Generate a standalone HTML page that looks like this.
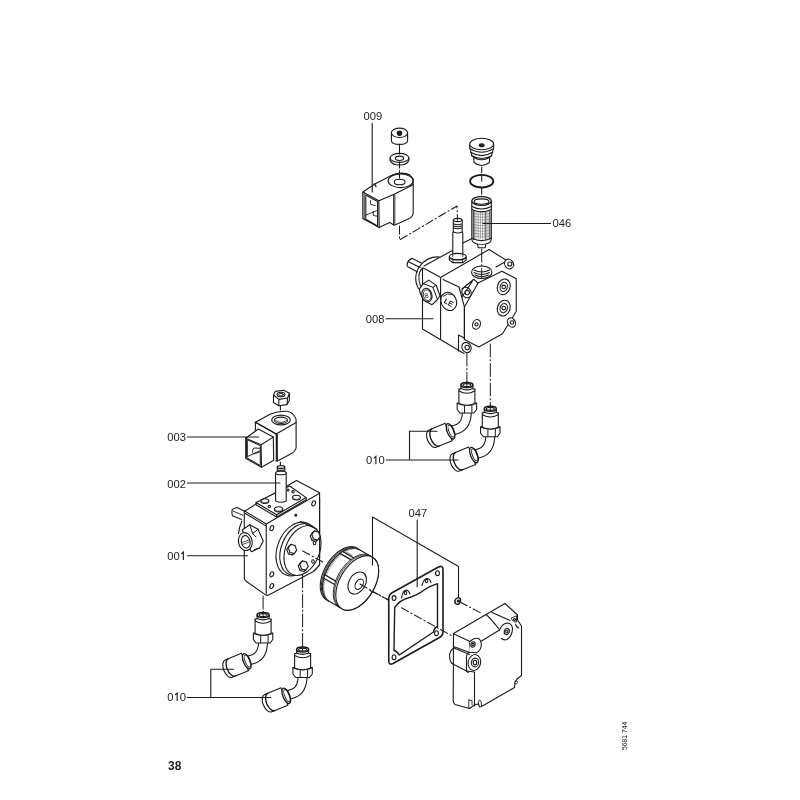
<!DOCTYPE html>
<html><head><meta charset="utf-8"><style>
html,body{margin:0;padding:0;background:#fff;width:800px;height:800px;overflow:hidden}
svg{position:absolute;left:0;top:0;will-change:transform}
text{font-family:"Liberation Sans",sans-serif;fill:#222}
</style></head><body>
<svg width="800" height="800" viewBox="0 0 800 800">
<g fill="none" stroke="#1a1a1a" stroke-width="1.1" stroke-linejoin="round" stroke-linecap="round">
<!-- ===== 009 coil upper ===== -->
<g id="c009">
<!-- nut -->
<ellipse cx="399.5" cy="132.8" rx="8.1" ry="4.7" fill="#fff"/>
<path d="M391.4,133 L391.4,140.5 Q391.4,144.4 399.5,144.4 Q407.6,144.4 407.6,140.5 L407.6,133"/>
<circle cx="399.5" cy="133.2" r="2.2" fill="#222"/>
<!-- washer -->
<ellipse cx="399.5" cy="157.9" rx="9.4" ry="4.5"/>
<path d="M390.1,158 L390.1,160.5 Q392,165 399.5,165 Q407,165 408.9,160.5 L408.9,158"/>
<ellipse cx="399.5" cy="158.3" rx="4.1" ry="2.2"/>
<!-- coil body -->
<path d="M362.8,192 L374.8,184 L388.8,176.8 Q395,173 402,173 Q410,173.5 413.2,179 L413.2,212.8 Q413.2,216.5 409.2,218.4 L394.4,225.2 L389.6,222.4 L379.2,227.6 L362.8,218.4 Z" fill="#fff"/>
<path d="M362.8,192 L378.8,200.8 L379.2,227.6 M378.8,200.8 L393.6,194.4 L413.2,184.8"/>
<path d="M393.6,194.4 L393.6,224.8 M394.8,195 L394.8,224.5" stroke-width="0.9"/>
<path d="M364.2,193 L364.2,219" stroke-width="0.9"/>
<path d="M365.8,195 L377.6,201.6 L377.6,226 L365.8,219.3 Z"/>
<path d="M365.8,215.2 L377.4,210.4 M370.4,200.6 L370.4,204.4 L375.2,205.6 M373.2,211.4 L373.2,215.4 L377.2,216.2" stroke-width="0.9"/>
<path d="M374.5,183.8 L376,186.5" stroke-width="1.4"/>
<ellipse cx="400.6" cy="180.8" rx="12.5" ry="6.8"/>
<path d="M390.5,176 Q399,171.8 409.5,174.5" stroke-width="0.9"/>
<ellipse cx="399.6" cy="182" rx="5.4" ry="2.8"/>
<!-- axis line nut-washer-coil -->
<path d="M399.5,144.4 L399.5,154 M399.5,162 L399.5,168 M399.5,170.5 L399.5,178"/>
</g>
<!-- leader 009 -->
<path d="M372.2,123.4 L372.2,192"/>
<!-- dash-dot coil->stem -->
<path d="M399.5,226 L399.5,240 L457,206 L457.5,220" stroke-dasharray="8,2.8,1.3,2.8" stroke-width="1.05"/>

<!-- ===== 046 stack ===== -->
<g id="s046">
<path d="M469.7,144.5 L469.9,149 L470.6,150 L470.8,152.5 L471.6,153.6 L471.8,156 L473.7,157 L474,162.5 Q481.7,168.5 489.4,162.5 L489.7,157 L491.6,156 L491.9,153.6 L492.6,152.5 L492.9,150 L493.5,149 L493.7,144.5 Z" fill="#fff"/>
<ellipse cx="481.7" cy="144" rx="12" ry="5.7" fill="#fff"/>
<path d="M469.9,148.6 Q481.7,156 493.5,148.6 M470.8,152.2 Q481.7,159 492.6,152.2 M471.8,155.6 Q481.7,161.5 491.6,155.6 M473.8,157.4 Q481.7,162 489.6,157.4"/>
<ellipse cx="481.7" cy="145.2" rx="2.4" ry="1.5" fill="#222"/>
<path d="M481.7,167 L481.7,172.5 M481.7,175 L481.7,181"/>
<ellipse cx="481.7" cy="181.2" rx="11.6" ry="6.3" stroke-width="1.8"/>
<path d="M481.7,188 L481.7,194 M481.7,196 L481.7,199"/>
<!-- filter -->
<path d="M471.8,201 L471.8,239 Q471.8,243 477.5,244 L478.3,247.8 L485.1,247.8 L485.9,244 Q491.3,243 491.3,239 L491.3,201" fill="#fff"/>
<g stroke="#666" stroke-width="0.55">
<path d="M476,211.5 L476,238.5 M478.2,211.5 L478.2,238.5 M480.4,211.5 L480.4,238.5 M482.6,211.5 L482.6,238.5 M484.8,211.5 L484.8,238.5 M487,211.5 L487,238.5 M489,211.5 L489,238.5"/>
<path d="M473,213.5 Q481.5,215.7 490.3,213.5 M473,216.3 Q481.5,218.5 490.3,216.3 M473,219.1 Q481.5,221.29999999999998 490.3,219.1 M473,221.9 Q481.5,224.1 490.3,221.9 M473,224.7 Q481.5,226.89999999999998 490.3,224.7 M473,227.5 Q481.5,229.7 490.3,227.5 M473,230.3 Q481.5,232.5 490.3,230.3 M473,233.1 Q481.5,235.29999999999998 490.3,233.1 M473,235.9 Q481.5,238.1 490.3,235.9"/>
</g>
<path d="M473.6,211 L473.6,239" stroke-width="2" stroke="#555"/>
<path d="M485.6,212 L485.6,239.5" stroke-width="1.2" stroke="#777"/>
<path d="M489.8,211 L489.8,239" stroke-width="1.2" stroke="#555"/>
<ellipse cx="481.55" cy="201" rx="9.75" ry="4.3" stroke-width="1.3" fill="#fff"/>
<ellipse cx="481.55" cy="201.6" rx="7.4" ry="2.7"/>
<path d="M471.8,206.5 Q481.55,211.5 491.3,206.5 M471.8,209.5 Q481.55,214.3 491.3,209.5"/>
<path d="M471.9,238.3 Q481.55,243 491.2,238.3" stroke-width="1.2"/>
<path d="M478,244.2 Q481.7,245.3 485.4,244.2" stroke-width="0.8"/>
</g>
<!-- leader 046 -->
<path d="M483,223.5 L550.5,223.5"/>

<!-- ===== upper stem ===== -->
<path d="M453.3,220 L453.3,232 L452.8,233 L452.8,255 M462.2,220 L462.2,232 L462.8,233 L462.8,255" />
<ellipse cx="457.75" cy="220" rx="4.25" ry="1.6"/>
<path d="M454,224 Q457.75,225.5 461.5,224 M454,226 Q457.75,227.5 461.5,226 M454,228 Q457.75,229.5 461.5,228 M453.5,232 Q457.75,234 462,232"/>
<path d="M449.3,256.8 L449.3,259.8 L452.6,262.6 L462.9,262.6 L466.2,259.8 L466.2,256.8 Z" fill="#fff"/>
<ellipse cx="457.75" cy="256.6" rx="8.4" ry="3.2" fill="#fff"/>
<path d="M452.8,256.5 L452.8,255 M462.7,256.5 L462.7,255 M453,259.6 L453,262.6 M462.5,259.6 L462.5,262.6 M449.3,258.3 Q457.75,262 466.2,258.3" stroke-width="0.9"/>

<!-- ===== pump 008 ===== -->
<g id="p008">
<!-- shaft -->
<path d="M412.4,258.4 L421.75,263.25 M408.25,267 L417.6,271.9 M412.4,258.4 Q407,260 407.1,265.5 Q407.3,266.7 408.25,267 M408.4,261.8 L420.2,267.4"/>
<!-- flange -->
<path d="M418.75,288.75 C414.5,282 414.5,273 420,266 C424.5,260 430,256.5 439,256.9"/>
<path d="M420.5,286 C418,279 418.5,272 422.5,268"/>
<!-- left block -->
<path d="M424,265.9 L452.5,250.5 M423.25,268.1 L439.5,276.75 L440.6,278 L440.6,338.6 M422.5,268.5 L422.5,329 L464,353.5"/>
<path d="M440.5,277.5 L489,249.5 L514,265 M443,279.5 L459,287"/>
<path d="M463,243 L472,238.5"/>
<!-- hex nut -->
<path d="M419.4,288.9 L423.4,283.6 L428.75,280.1 L436.25,285.4 L440,295.75 L437.5,299.5 L431.9,304.8 L423.4,300.1 L420,292.6 Z" fill="#fff"/>
<path d="M423.4,283.6 L432.8,287.3 L436.25,285.4 M432.8,287.3 L437.5,299.5" stroke-width="1"/>
<ellipse cx="426.9" cy="295.1" rx="5" ry="6.9" transform="rotate(-15 426.9 295.1)" fill="#fff"/>
<ellipse cx="427.2" cy="295.2" rx="3.8" ry="5.5" transform="rotate(-15 427.2 295.2)" stroke-width="0.8"/>
<text x="424.4" y="298.2" font-size="7" stroke="none" fill="#222" transform="rotate(-20 426 295)">8</text>
<!-- LE plug -->
<ellipse cx="448.75" cy="301.4" rx="7.6" ry="9.4" transform="rotate(-25 448.75 301.4)" fill="#fff"/>
<path d="M443.5,296 Q447,292.5 452,294.5" stroke-width="0.9"/>
<text x="444.5" y="305" font-size="7.5" font-weight="bold" stroke="none" fill="#222" transform="rotate(28 448.75 301.4)">LE</text>
<!-- port hole -->
<ellipse cx="481.75" cy="272.25" rx="10.25" ry="6.25"/>
<path d="M474,270 Q481.75,274 489.5,270 M474,272.5 Q481.75,276.5 489.5,272.5 M475,275 Q481.75,278.5 488.5,275"/>
<!-- cover face -->
<path d="M464.4,306.9 L478.1,283.1 L501.9,271.25 L516.25,278.75 L516.25,311.25 L502.5,333.75 L478.75,346.9 L464.4,339.4 Z" fill="#fff"/>
<path d="M474,279.5 L478.1,283.1 M459,287 L464.4,306.9 M464.4,306.9 L464.4,339.4"/>
<path d="M458.5,335 L458.5,351 M458.5,335 L464.4,338"/>
<!-- screws on cover -->
<ellipse cx="503.75" cy="286.9" rx="6.3" ry="8" transform="rotate(20 503.75 286.9)"/>
<ellipse cx="503.75" cy="286.9" rx="3.6" ry="4.6" transform="rotate(20 503.75 286.9)"/>
<circle cx="503.75" cy="286.9" r="1.8"/>
<ellipse cx="503.75" cy="308.1" rx="6.3" ry="8" transform="rotate(20 503.75 308.1)"/>
<ellipse cx="503.75" cy="308.1" rx="3.6" ry="4.6" transform="rotate(20 503.75 308.1)"/>
<circle cx="503.75" cy="308.1" r="1.8"/>
<ellipse cx="476.5" cy="324.4" rx="3.8" ry="5" transform="rotate(20 476.5 324.4)"/>
<circle cx="476.5" cy="324.4" r="1.6"/>
<!-- bosses -->
<ellipse cx="466.5" cy="292.5" rx="4.5" ry="5.5" fill="#fff" transform="rotate(-30 466.5 292.5)"/>
<circle cx="467.2" cy="292.5" r="2.2"/>
<path d="M462,289 L473.5,279.5 M462,297 L472.5,281"/>
<ellipse cx="511.5" cy="322.5" rx="3.8" ry="4.8" fill="#fff" transform="rotate(-30 511.5 322.5)"/>
<circle cx="512" cy="322.5" r="1.8"/>
<ellipse cx="466.5" cy="347.5" rx="4.5" ry="5.3" fill="#fff" transform="rotate(-30 466.5 347.5)"/>
<circle cx="467.2" cy="347.5" r="2.2"/>
<ellipse cx="509" cy="264" rx="4.3" ry="5" fill="#fff" transform="rotate(-30 509 264)"/>
<circle cx="509.8" cy="264" r="2"/>
<path d="M496,267 L505,262"/>
</g>
<!-- leader 008 -->
<path d="M386,318.75 L433,318.75"/>
<!-- dashed lines down from pump -->
<path d="M466.9,353 L466.9,385" stroke-dasharray="13,2.6,1.3,2.6" stroke-width="1"/>
<path d="M490.3,344 L490.3,408.5" stroke-dasharray="13,2.6,1.3,2.6" stroke-width="1"/>
<!-- port axis -->
<path d="M481.7,249 L481.7,278" stroke-dasharray="13,2.6,1.3,2.6" stroke-width="1"/>
</g>

<g fill="none" stroke="#1a1a1a" stroke-width="1.1" stroke-linejoin="round" stroke-linecap="round">

<g transform="translate(466.9,385)">
<!-- tube -->
<path d="M0,26 C0,36.5 -3,41.5 -9,43.8 L-16.5,46.3" stroke="#1a1a1a" stroke-width="10" fill="none"/>
<path d="M0,26 C0,36.5 -3,41.5 -9,43.8 L-16.5,46.3" stroke="#fff" stroke-width="7.8" fill="none"/>
<!-- fitting -->
<path d="M-9.7,18 L-9.7,24.5 L-7,28 L7,28 L9.7,24.5 L9.7,18 Z" fill="#fff"/>
<path d="M-9.7,18.5 Q0,22.5 9.7,18.5 M-2.4,21 L-2.4,28 M5,20.3 L5,27.5" stroke-width="1"/>
<path d="M-8,4 L-8,18.5 Q0,22 8,18.5 L8,4" fill="#fff"/>
<path d="M-8,4.2 Q0,1 8,4.2 M-7.8,6 Q0,10.5 7.8,6"/>
<path d="M-6,0 L-6,3.6 Q0,6.2 6,3.6 L6,0" fill="#fff" stroke-width="1.1"/>
<ellipse cx="0" cy="0" rx="6" ry="2.5" fill="#fff" stroke-width="1.5"/>
<ellipse cx="0" cy="0.1" rx="4" ry="1.5" stroke-width="1.1"/>
<!-- sleeve -->
<g transform="translate(-16.3,46.3) rotate(-22)">
<path d="M-2,-9.4 L-19.5,-9.4 A5.2,9.4 0 0 0 -19.5,9.4 L-2,9.4 Z" fill="#fff"/>
<path d="M-16.3,-9.3 A4.8,9.3 0 0 0 -16.3,9.3" stroke-width="1.4"/>
<ellipse cx="0" cy="0" rx="3.4" ry="8.2" fill="#fff" stroke-width="1.3"/>
<ellipse cx="0.6" cy="0" rx="2.2" ry="6.4" stroke-width="0.9"/>
</g>
</g>
<g transform="translate(490.3,408.75)">
<!-- tube -->
<path d="M0,26 C0,36.5 -3,41.5 -9,43.8 L-16.5,46.3" stroke="#1a1a1a" stroke-width="10" fill="none"/>
<path d="M0,26 C0,36.5 -3,41.5 -9,43.8 L-16.5,46.3" stroke="#fff" stroke-width="7.8" fill="none"/>
<!-- fitting -->
<path d="M-9.7,18 L-9.7,24.5 L-7,28 L7,28 L9.7,24.5 L9.7,18 Z" fill="#fff"/>
<path d="M-9.7,18.5 Q0,22.5 9.7,18.5 M-2.4,21 L-2.4,28 M5,20.3 L5,27.5" stroke-width="1"/>
<path d="M-8,4 L-8,18.5 Q0,22 8,18.5 L8,4" fill="#fff"/>
<path d="M-8,4.2 Q0,1 8,4.2 M-7.8,6 Q0,10.5 7.8,6"/>
<path d="M-6,0 L-6,3.6 Q0,6.2 6,3.6 L6,0" fill="#fff" stroke-width="1.1"/>
<ellipse cx="0" cy="0" rx="6" ry="2.5" fill="#fff" stroke-width="1.5"/>
<ellipse cx="0" cy="0.1" rx="4" ry="1.5" stroke-width="1.1"/>
<!-- sleeve -->
<g transform="translate(-16.3,46.3) rotate(-22)">
<path d="M-2,-9.4 L-19.5,-9.4 A5.2,9.4 0 0 0 -19.5,9.4 L-2,9.4 Z" fill="#fff"/>
<path d="M-16.3,-9.3 A4.8,9.3 0 0 0 -16.3,9.3" stroke-width="1.4"/>
<ellipse cx="0" cy="0" rx="3.4" ry="8.2" fill="#fff" stroke-width="1.3"/>
<ellipse cx="0.6" cy="0" rx="2.2" ry="6.4" stroke-width="0.9"/>
</g>
</g>
<g transform="translate(263.1,615)">
<!-- tube -->
<path d="M0,26 C0,36.5 -3,41.5 -9,43.8 L-16.5,46.3" stroke="#1a1a1a" stroke-width="10" fill="none"/>
<path d="M0,26 C0,36.5 -3,41.5 -9,43.8 L-16.5,46.3" stroke="#fff" stroke-width="7.8" fill="none"/>
<!-- fitting -->
<path d="M-9.7,18 L-9.7,24.5 L-7,28 L7,28 L9.7,24.5 L9.7,18 Z" fill="#fff"/>
<path d="M-9.7,18.5 Q0,22.5 9.7,18.5 M-2.4,21 L-2.4,28 M5,20.3 L5,27.5" stroke-width="1"/>
<path d="M-8,4 L-8,18.5 Q0,22 8,18.5 L8,4" fill="#fff"/>
<path d="M-8,4.2 Q0,1 8,4.2 M-7.8,6 Q0,10.5 7.8,6"/>
<path d="M-6,0 L-6,3.6 Q0,6.2 6,3.6 L6,0" fill="#fff" stroke-width="1.1"/>
<ellipse cx="0" cy="0" rx="6" ry="2.5" fill="#fff" stroke-width="1.5"/>
<ellipse cx="0" cy="0.1" rx="4" ry="1.5" stroke-width="1.1"/>
<!-- sleeve -->
<g transform="translate(-16.3,46.3) rotate(-22)">
<path d="M-2,-9.4 L-19.5,-9.4 A5.2,9.4 0 0 0 -19.5,9.4 L-2,9.4 Z" fill="#fff"/>
<path d="M-16.3,-9.3 A4.8,9.3 0 0 0 -16.3,9.3" stroke-width="1.4"/>
<ellipse cx="0" cy="0" rx="3.4" ry="8.2" fill="#fff" stroke-width="1.3"/>
<ellipse cx="0.6" cy="0" rx="2.2" ry="6.4" stroke-width="0.9"/>
</g>
</g>
<g transform="translate(302.6,649.5)">
<!-- tube -->
<path d="M0,26 C0,36.5 -3,41.5 -9,43.8 L-16.5,46.3" stroke="#1a1a1a" stroke-width="10" fill="none"/>
<path d="M0,26 C0,36.5 -3,41.5 -9,43.8 L-16.5,46.3" stroke="#fff" stroke-width="7.8" fill="none"/>
<!-- fitting -->
<path d="M-9.7,18 L-9.7,24.5 L-7,28 L7,28 L9.7,24.5 L9.7,18 Z" fill="#fff"/>
<path d="M-9.7,18.5 Q0,22.5 9.7,18.5 M-2.4,21 L-2.4,28 M5,20.3 L5,27.5" stroke-width="1"/>
<path d="M-8,4 L-8,18.5 Q0,22 8,18.5 L8,4" fill="#fff"/>
<path d="M-8,4.2 Q0,1 8,4.2 M-7.8,6 Q0,10.5 7.8,6"/>
<path d="M-6,0 L-6,3.6 Q0,6.2 6,3.6 L6,0" fill="#fff" stroke-width="1.1"/>
<ellipse cx="0" cy="0" rx="6" ry="2.5" fill="#fff" stroke-width="1.5"/>
<ellipse cx="0" cy="0.1" rx="4" ry="1.5" stroke-width="1.1"/>
<!-- sleeve -->
<g transform="translate(-16.3,46.3) rotate(-22)">
<path d="M-2,-9.4 L-19.5,-9.4 A5.2,9.4 0 0 0 -19.5,9.4 L-2,9.4 Z" fill="#fff"/>
<path d="M-16.3,-9.3 A4.8,9.3 0 0 0 -16.3,9.3" stroke-width="1.4"/>
<ellipse cx="0" cy="0" rx="3.4" ry="8.2" fill="#fff" stroke-width="1.3"/>
<ellipse cx="0.6" cy="0" rx="2.2" ry="6.4" stroke-width="0.9"/>
</g>
</g>
<path d="M466.9,382 L466.9,386 M490.3,405.5 L490.3,409.8 M263.1,612 L263.1,616 M302.6,646.5 L302.6,650.5" stroke-width="0.9"/>
<!-- upper 010 bracket -->
<path d="M386.25,460 L458,460 M409.5,431.25 L409.5,460 M409.5,431.25 L437,431.25"/>
<!-- lower 010 bracket -->
<path d="M187.5,697.5 L271,697.5 M210.8,669.3 L210.8,697.5 M210.8,669.3 L233.5,669.3"/>

<!-- ===== 003 nut ===== -->
<path d="M273.6,395 L275.2,391.4 L283.8,390.2 L289.4,393.2 L289.4,400.5 L286.8,404.6 L278.8,405.8 L273.4,402.5 Z" fill="#fff"/>
<path d="M273.6,395 L278.8,399.4 L287.6,398 L289.4,393.2 M278.8,399.4 L278.8,405.8 M287.4,398.4 L287.2,404.2"/>
<ellipse cx="281" cy="394.5" rx="3.9" ry="2.3"/>
<ellipse cx="281" cy="394.6" rx="2.3" ry="1.2" stroke-width="0.9"/>
<path d="M280.4,406 L280.4,412.5" stroke-dasharray="4,2"/>
<!-- ===== 003 coil ===== -->
<path d="M255.4,422.3 L270.5,413.9 Q278,410.8 287.5,411.3 Q294,412.8 296.1,419.6 L296.1,448.1 Q295,451.5 292.4,453 L277,461.3 L276.4,433.9 Z" fill="#fff"/>
<path d="M255.4,422.3 L276.2,433.9 L296.1,422.6"/>
<path d="M255.4,422.3 L255.4,431"/>
<path d="M276.2,433.9 L276.2,461.3 M277.4,434.3 L277.4,460.8" stroke-width="0.9"/>
<ellipse cx="281" cy="420" rx="9.3" ry="4.9"/>
<ellipse cx="281" cy="420.3" rx="6.5" ry="3.2"/>
<path d="M275.5,420.5 Q281,424.5 286.5,420.5" stroke-width="0.8"/>
<!-- connector -->
<path d="M245.7,438.3 L258.3,429 L273.3,437.1 L273.7,460.3 L261.5,467.2 L245.7,458.3 Z" fill="#fff"/>
<path d="M245.7,438.3 L261.1,444.8 L273.3,437.1 M261.1,444.8 L261.5,467.2"/>
<path d="M246.9,439.6 L260.3,445.7 L260.3,465.6 L246.9,457.8 Z" stroke-width="1"/>
<path d="M247.2,440.8 L247.2,457" stroke-width="1.2"/>
<path d="M247.7,456.5 L260.3,450.5" stroke-width="0.9"/>
<path d="M259.5,448.3 L254.5,448 Q252.6,448.5 252.6,450.5 L252.6,452.5 Q253,454 254.5,453.8 L259.5,452" stroke-width="1"/>
<path d="M280.4,462 L280.4,467" stroke-dasharray="3,2"/>
<!-- ===== pump 001 ===== -->
<g id="p001">
<path d="M237,507.5 L244.5,511.2 M232.5,515.8 L241.5,519.5 M237,507.5 Q233,508.5 232.1,509.9 Q231.6,513.5 232.5,515.8" />
<path d="M241.9,521 Q239.5,526 238.5,533.8" />
<path d="M233.3,511.2 L243,515.2" stroke-width="0.9"/>
<path d="M244.3,511.5 L244.3,578 Q244.3,580.5 246.5,581.5 L265.6,594.9 Q267,595.8 268.6,595 L313.5,571.5 L319.6,565 L319.6,492.8 L296.5,480.4 L256.5,503.75 L244.3,511.5 Z" fill="#fff"/>
<path d="M244.5,510.9 L266.25,524 L266.25,594 M245,513.2 L265.5,525.6 M266.25,524 L319.6,493.2" />
<path d="M256,502.5 L289.6,486 L306.2,497.6 L276.6,514.8 Z" fill="#fff"/>
<path d="M256,502.5 L256,504.8 L276.6,517 L306.2,499.8 L306.2,497.6 M276.6,514.8 L276.6,517" />
<ellipse cx="264.9" cy="501.1" rx="4" ry="2.4"/>
<path d="M261.5,501.40000000000003 Q264.9,504.7 268.29999999999995,501.40000000000003" stroke-width="0.7"/>
<ellipse cx="296.5" cy="497.6" rx="4" ry="2.4"/>
<path d="M293.1,497.90000000000003 Q296.5,501.2 299.9,497.90000000000003" stroke-width="0.7"/>
<ellipse cx="278.6" cy="509.3" rx="4.2" ry="2.6"/>
<path d="M275.00000000000006,509.6 Q278.6,513.1 282.2,509.6" stroke-width="0.7"/>
<circle cx="269.3" cy="506.6" r="1.2"/><circle cx="293" cy="491.8" r="1.2"/><circle cx="288" cy="490" r="1"/>
<!-- ===== 002 stem ===== -->
<path d="M277.3,467 L277.3,473 M284.8,467 L284.8,473"/>
<ellipse cx="281" cy="467" rx="3.75" ry="1.4"/>
<path d="M278,469 L284,469 M278,470.5 L284,470.5 M278,472 L284,472" stroke-width="0.8"/>
<path d="M275.6,473 L275.6,501 Q281,503.5 286.2,501 L286.2,473" fill="#fff"/>
<ellipse cx="280.9" cy="473" rx="5.3" ry="1.8" fill="#fff"/>



<ellipse cx="271.8" cy="528.2" rx="1.7" ry="2.6" transform="rotate(25 271.8 528.2)"/>
<ellipse cx="271.8" cy="574.3" rx="1.7" ry="2.6" transform="rotate(25 271.8 574.3)"/>
<ellipse cx="271.8" cy="586" rx="1.7" ry="2.6" transform="rotate(25 271.8 586)"/>
<ellipse cx="313.7" cy="503.4" rx="1.7" ry="2.6" transform="rotate(25 313.7 503.4)"/>
<circle cx="295.8" cy="515.3" r="0.9" fill="#222"/>
<ellipse cx="296.5" cy="549" rx="19" ry="28" transform="rotate(22 296.5 549)" fill="#fff"/>
<ellipse cx="299.3" cy="549.5" rx="18" ry="27" transform="rotate(22 299.3 549.5)" fill="#fff"/>
<ellipse cx="302.5" cy="550.5" rx="17" ry="26" transform="rotate(22 302.5 550.5)" fill="#fff"/>
<path d="M300.5,521.4 L317,529.3" />
<path d="M319.6,498 L319.6,557.5" />
<path d="M295.07,551.51 L292.59,555.05 L288.42,553.93 L286.73,549.29 L289.21,545.75 L293.38,546.87 Z" fill="#fff"/>
<path d="M296.67,550.11 L295.07,551.51 M294.19,553.65 L292.59,555.05 M290.02,552.53 L288.42,553.93 M288.33,547.89 L286.73,549.29 M290.81,544.35 L289.21,545.75 M294.98,545.47 L293.38,546.87 " stroke-width="0.9"/>
<path d="M296.67,550.11 L294.19,553.65 L290.02,552.53 L288.33,547.89 L290.81,544.35 L294.98,545.47 Z" fill="#fff"/>
<path d="M306.57,568.01 L304.09,571.55 L299.92,570.43 L298.23,565.79 L300.71,562.25 L304.88,563.37 Z" fill="#fff"/>
<path d="M308.17,566.61 L306.57,568.01 M305.69,570.15 L304.09,571.55 M301.52,569.03 L299.92,570.43 M299.83,564.39 L298.23,565.79 M302.31,560.85 L300.71,562.25 M306.48,561.97 L304.88,563.37 " stroke-width="0.9"/>
<path d="M308.17,566.61 L305.69,570.15 L301.52,569.03 L299.83,564.39 L302.31,560.85 L306.48,561.97 Z" fill="#fff"/>
<path d="M318.57,538.01 L316.09,541.55 L311.92,540.43 L310.23,535.79 L312.71,532.25 L316.88,533.37 Z" fill="#fff"/>
<path d="M320.17,536.61 L318.57,538.01 M317.69,540.15 L316.09,541.55 M313.52,539.03 L311.92,540.43 M311.83,534.39 L310.23,535.79 M314.31,530.85 L312.71,532.25 M318.48,531.97 L316.88,533.37 " stroke-width="0.9"/>
<path d="M320.17,536.61 L317.69,540.15 L313.52,539.03 L311.83,534.39 L314.31,530.85 L318.48,531.97 Z" fill="#fff"/>
<ellipse cx="314.5" cy="543" rx="1.3" ry="1.8"/><ellipse cx="313" cy="561.5" rx="1.3" ry="1.8"/>
<path d="M242.25,530.00 L249.75,524.75 L258.00,529.25 L263.25,540.90 L259.50,548.00 L251.25,551.75 Z" fill="#fff"/>
<path d="M252.7,533.5 L258,529.25 M252.7,533.5 L249.75,524.75 M254.5,549.5 L259.5,548 M252.7,533.5 L256,537" stroke-width="1"/>
<ellipse cx="245.3" cy="541.6" rx="6.8" ry="9" transform="rotate(-12 245.3 541.6)" fill="#fff"/>
<ellipse cx="245.7" cy="541.8" rx="4.4" ry="6.3" transform="rotate(-12 245.7 541.8)"/>
<path d="M242,542.5 L249,540 M242.5,544.5 L249.3,542" stroke-width="0.8"/>
</g>

<!-- leader 003 002 001 -->
<path d="M187.5,437 L258.5,437 M187.5,483 L280,483 M187.5,555.75 L247.5,555.75"/>
<!-- dashed lines pump001 -->
<path d="M263.1,596 L263.1,615" stroke-dasharray="13,2.6,1.3,2.6" stroke-width="1"/>
<path d="M302.6,575 L302.6,649.5" stroke-dasharray="13,2.6,1.3,2.6" stroke-width="1"/>
<path d="M302.7,551 L324,562.6" stroke-dasharray="8,2.8,1.3,2.8" stroke-width="1.05"/>

<!-- ===== filter drum ===== -->
<g id="drum">
<path d="M356.93,548.15 L356.53,547.93 L356.12,547.72 L355.70,547.53 L355.27,547.36 L354.83,547.21 L354.38,547.08 L353.92,546.97 L353.46,546.87 L352.99,546.79 L352.50,546.73 L352.02,546.69 L351.52,546.67 L351.02,546.67 L350.51,546.69 L350.00,546.72 L349.48,546.77 L348.95,546.85 L348.42,546.94 L347.89,547.05 L347.35,547.17 L346.80,547.32 L346.26,547.48 L345.71,547.67 L345.16,547.87 L344.60,548.09 L344.04,548.32 L343.49,548.58 L342.93,548.85 L342.37,549.14 L341.80,549.44 L341.24,549.76 L340.68,550.10 L340.12,550.46 L339.56,550.83 L339.01,551.22 L338.45,551.62 L337.90,552.04 L337.35,552.47 L336.80,552.92 L336.25,553.38 L335.71,553.86 L335.18,554.35 L334.65,554.86 L334.12,555.37 L333.60,555.90 L333.08,556.44 L332.57,557.00 L332.06,557.57 L331.57,558.14 L331.08,558.73 L330.59,559.33 L330.12,559.94 L329.65,560.56 L329.19,561.18 L328.74,561.82 L328.30,562.46 L327.86,563.12 L327.44,563.78 L327.03,564.44 L326.62,565.12 L326.23,565.80 L325.85,566.48 L325.47,567.17 L325.11,567.87 L324.76,568.57 L324.43,569.27 L324.10,569.98 L323.79,570.69 L323.48,571.40 L323.19,572.11 L322.92,572.83 L322.65,573.54 L322.40,574.26 L322.17,574.97 L321.94,575.69 L321.73,576.40 L321.54,577.11 L321.35,577.82 L321.18,578.53 L321.03,579.23 L320.89,579.93 L320.76,580.63 L320.65,581.32 L320.55,582.01 L320.47,582.69 L320.40,583.36 L320.35,584.03 L320.31,584.70 L320.28,585.35 L320.27,586.00 L320.28,586.64 L320.30,587.27 L320.33,587.89 L320.38,588.50 L320.44,589.10 L320.52,589.69 L320.61,590.27 L320.72,590.84 L320.84,591.40 L320.97,591.94 L321.12,592.48 L321.29,593.00 L321.47,593.51 L321.66,594.00 L321.86,594.48 L322.08,594.95 L322.31,595.40 L322.56,595.84 L322.82,596.26 L323.09,596.67 L323.37,597.06 L323.67,597.44 L323.98,597.80 L324.30,598.14 L324.64,598.47 L324.98,598.78 L325.34,599.07 L325.71,599.35 L326.08,599.61 L326.47,599.85 L341.97,608.85 L342.37,609.07 L342.78,609.28 L343.20,609.47 L343.63,609.64 L344.07,609.79 L344.52,609.92 L344.98,610.03 L345.44,610.13 L345.91,610.21 L346.40,610.27 L346.88,610.31 L347.38,610.33 L347.88,610.33 L348.39,610.31 L348.90,610.28 L349.42,610.23 L349.95,610.15 L350.48,610.06 L351.01,609.95 L351.55,609.83 L352.10,609.68 L352.64,609.52 L353.19,609.33 L353.74,609.13 L354.30,608.91 L354.86,608.68 L355.41,608.42 L355.97,608.15 L356.53,607.86 L357.10,607.56 L357.66,607.24 L358.22,606.90 L358.78,606.54 L359.34,606.17 L359.89,605.78 L360.45,605.38 L361.00,604.96 L361.55,604.53 L362.10,604.08 L362.65,603.62 L363.19,603.14 L363.72,602.65 L364.25,602.14 L364.78,601.63 L365.30,601.10 L365.82,600.56 L366.33,600.00 L366.84,599.43 L367.33,598.86 L367.82,598.27 L368.31,597.67 L368.78,597.06 L369.25,596.44 L369.71,595.82 L370.16,595.18 L370.60,594.54 L371.04,593.88 L371.46,593.22 L371.87,592.56 L372.28,591.88 L372.67,591.20 L373.05,590.52 L373.43,589.83 L373.79,589.13 L374.14,588.43 L374.47,587.73 L374.80,587.02 L375.11,586.31 L375.42,585.60 L375.71,584.89 L375.98,584.17 L376.25,583.46 L376.50,582.74 L376.73,582.03 L376.96,581.31 L377.17,580.60 L377.36,579.89 L377.55,579.18 L377.72,578.47 L377.87,577.77 L378.01,577.07 L378.14,576.37 L378.25,575.68 L378.35,574.99 L378.43,574.31 L378.50,573.64 L378.55,572.97 L378.59,572.30 L378.62,571.65 L378.63,571.00 L378.62,570.36 L378.60,569.73 L378.57,569.11 L378.52,568.50 L378.46,567.90 L378.38,567.31 L378.29,566.73 L378.18,566.16 L378.06,565.60 L377.93,565.06 L377.78,564.52 L377.61,564.00 L377.43,563.49 L377.24,563.00 L377.04,562.52 L376.82,562.05 L376.59,561.60 L376.34,561.16 L376.08,560.74 L375.81,560.33 L375.53,559.94 L375.23,559.56 L374.92,559.20 L374.60,558.86 L374.26,558.53 L373.92,558.22 L373.56,557.93 L373.19,557.65 L372.82,557.39 L372.43,557.15 Z" fill="#fff"/>
<path d="M358.01,548.78 L357.20,548.35 L356.35,547.99 L355.46,547.71 L354.54,547.50 L353.59,547.36 L352.61,547.30 L351.60,547.32 L350.56,547.40 L349.51,547.57 L348.43,547.80 L347.34,548.11 L346.24,548.50 L345.13,548.95 L344.01,549.48 L342.89,550.07 L341.77,550.73 L340.65,551.46 L339.54,552.25 L338.43,553.10 L337.34,554.01 L336.26,554.98 L335.20,556.00 L334.16,557.07 L333.15,558.20 L332.16,559.36 L331.20,560.57 L330.27,561.81 L329.38,563.09 L328.52,564.41 L327.71,565.75 L326.93,567.11 L326.20,568.50 L325.51,569.90 L324.87,571.32 L324.28,572.74 L323.74,574.17 L323.25,575.60 L322.82,577.03 L322.44,578.45 L322.11,579.86 L321.85,581.26 L321.64,582.64 L321.48,583.99 L321.39,585.33 L321.36,586.63 L321.38,587.90 L321.46,589.13 L321.60,590.32 L321.80,591.47 L322.06,592.57 L322.37,593.63 L322.74,594.63 L323.17,595.58 L323.64,596.47 L324.18,597.30 L324.76,598.07 L325.39,598.77 L326.07,599.41 L326.79,599.98 L327.56,600.48" stroke-width="1.0"/>
<path d="M359.10,549.41 L358.29,548.98 L357.44,548.62 L356.55,548.34 L355.63,548.13 L354.67,547.99 L353.69,547.93 L352.68,547.95 L351.65,548.03 L350.59,548.20 L349.52,548.43 L348.43,548.74 L347.33,549.13 L346.21,549.58 L345.10,550.11 L343.97,550.70 L342.85,551.36 L341.73,552.09 L340.62,552.88 L339.52,553.73 L338.42,554.64 L337.35,555.61 L336.29,556.63 L335.25,557.70 L334.23,558.83 L333.25,559.99 L332.29,561.20 L331.36,562.44 L330.47,563.72 L329.61,565.04 L328.79,566.38 L328.02,567.74 L327.28,569.13 L326.60,570.53 L325.96,571.95 L325.36,573.37 L324.82,574.80 L324.34,576.23 L323.90,577.66 L323.52,579.08 L323.20,580.49 L322.93,581.89 L322.72,583.27 L322.57,584.62 L322.48,585.96 L322.44,587.26 L322.47,588.53 L322.55,589.76 L322.69,590.95 L322.89,592.10 L323.14,593.20 L323.46,594.26 L323.83,595.26 L324.25,596.21 L324.73,597.10 L325.26,597.93 L325.84,598.70 L326.47,599.40 L327.15,600.04 L327.88,600.61 L328.64,601.11" stroke-width="1.2"/>
<path d="M369.95,555.71 L369.14,555.28 L368.29,554.92 L367.40,554.64 L366.48,554.43 L365.52,554.29 L364.54,554.23 L363.53,554.25 L362.50,554.33 L361.44,554.50 L360.37,554.73 L359.28,555.04 L358.18,555.43 L357.06,555.88 L355.95,556.41 L354.82,557.00 L353.70,557.66 L352.58,558.39 L351.47,559.18 L350.37,560.03 L349.27,560.94 L348.20,561.91 L347.14,562.93 L346.10,564.00 L345.08,565.13 L344.10,566.29 L343.14,567.50 L342.21,568.74 L341.32,570.02 L340.46,571.34 L339.64,572.68 L338.87,574.04 L338.13,575.43 L337.45,576.83 L336.81,578.25 L336.21,579.67 L335.67,581.10 L335.19,582.53 L334.75,583.96 L334.37,585.38 L334.05,586.79 L333.78,588.19 L333.57,589.57 L333.42,590.92 L333.33,592.26 L333.29,593.56 L333.32,594.83 L333.40,596.06 L333.54,597.25 L333.74,598.40 L333.99,599.50 L334.31,600.56 L334.68,601.56 L335.10,602.51 L335.58,603.40 L336.11,604.23 L336.69,605.00 L337.32,605.70 L338.00,606.34 L338.73,606.91 L339.49,607.41" stroke-width="1.0"/>
<path d="M371.03,556.34 L370.22,555.91 L369.37,555.55 L368.48,555.27 L367.56,555.06 L366.61,554.92 L365.63,554.86 L364.62,554.88 L363.58,554.96 L362.53,555.13 L361.45,555.36 L360.36,555.67 L359.26,556.06 L358.15,556.51 L357.03,557.04 L355.91,557.63 L354.79,558.29 L353.67,559.02 L352.56,559.81 L351.45,560.66 L350.36,561.57 L349.28,562.54 L348.22,563.56 L347.18,564.63 L346.17,565.76 L345.18,566.92 L344.22,568.13 L343.29,569.37 L342.40,570.65 L341.54,571.97 L340.73,573.31 L339.95,574.67 L339.22,576.06 L338.53,577.46 L337.89,578.88 L337.30,580.30 L336.76,581.73 L336.27,583.16 L335.84,584.59 L335.46,586.01 L335.13,587.42 L334.87,588.82 L334.66,590.20 L334.50,591.55 L334.41,592.89 L334.38,594.19 L334.40,595.46 L334.48,596.69 L334.62,597.88 L334.82,599.03 L335.08,600.13 L335.39,601.19 L335.76,602.19 L336.19,603.14 L336.66,604.03 L337.20,604.86 L337.78,605.63 L338.41,606.33 L339.09,606.97 L339.81,607.54 L340.58,608.04" stroke-width="0.8"/>
<path d="M342.63,551.50 L353.48,557.80" stroke-width="1.3"/>
<path d="M339.96,553.38 L350.81,559.68" stroke-width="1.3"/>
<path d="M324.82,574.80 L335.67,581.10" stroke-width="1.3"/>
<path d="M323.74,578.23 L334.59,584.53" stroke-width="1.3"/>
<path d="M358.12,548.90 L359.67,549.80 M357.21,548.54 L358.76,549.44 M356.25,548.26 L357.80,549.16 M355.26,548.07 L356.81,548.97 M354.23,547.96 L355.78,548.86 M353.18,547.93 L354.73,548.83 M352.09,547.99 L353.64,548.89 M350.97,548.13 L352.52,549.03 M349.84,548.36 L351.39,549.26 M348.68,548.66 L350.23,549.56 M347.51,549.06 L349.06,549.96 M346.33,549.53 L347.88,550.43 M345.15,550.08 L346.70,550.98 M343.96,550.71 L345.51,551.61 M342.76,551.42 L344.31,552.32 M339.82,553.49 L341.37,554.39 M338.72,554.39 L340.27,555.29 M337.63,555.35 L339.18,556.25 M336.55,556.37 L338.10,557.27 M335.50,557.44 L337.05,558.34 M334.47,558.56 L336.02,559.46 M333.46,559.73 L335.01,560.63 M332.49,560.94 L334.04,561.84 M331.55,562.19 L333.10,563.09 M330.64,563.47 L332.19,564.37 M329.77,564.79 L331.32,565.69 M328.93,566.14 L330.48,567.04 M328.14,567.51 L329.69,568.41 M327.40,568.91 L328.95,569.81 M326.69,570.32 L328.24,571.22 M326.04,571.75 L327.59,572.65 M325.44,573.19 L326.99,574.09 M324.89,574.63 L326.44,575.53 M323.70,578.40 L325.25,579.30 M323.34,579.84 L324.89,580.74 M323.05,581.26 L324.60,582.16 M322.81,582.67 L324.36,583.57 M322.63,584.05 L324.18,584.95 M322.51,585.41 L324.06,586.31 M322.45,586.75 L324.00,587.65 M322.45,588.05 L324.00,588.95 M322.51,589.31 L324.06,590.21 M322.63,590.53 L324.18,591.43 M322.81,591.72 L324.36,592.62 M323.05,592.85 L324.60,593.75 M323.35,593.94 L324.90,594.84 M323.71,594.97 L325.26,595.87 M324.13,595.95 L325.68,596.85 M324.60,596.86 L326.15,597.76 M325.12,597.72 L326.67,598.62 M325.70,598.52 L327.25,599.42 M326.32,599.25 L327.87,600.15 M327.00,599.91 L328.55,600.81 M327.73,600.50 L329.28,601.40" stroke-width="0.6" stroke="#333"/>
<path d="M345.48,552.99 L347.02,552.09 M346.24,553.43 L347.78,552.53 M346.99,553.88 L348.54,552.97 M347.75,554.32 L349.30,553.41 M348.51,554.76 L350.06,553.86 M349.27,555.20 L350.82,554.30 M350.03,555.64 L351.58,554.74 M350.79,556.08 L352.34,555.18" stroke-width="0.5" stroke="#444"/>
<ellipse cx="357.2" cy="583.0" rx="17.5" ry="30.0" transform="rotate(30.5 357.2 583.0)" fill="#fff"/>
<ellipse cx="357.2" cy="583.0" rx="8.2" ry="11.8" transform="rotate(30.5 357.2 583.0)"/>
<ellipse cx="359.2" cy="584.2" rx="3.6" ry="5.6" transform="rotate(30.5 359.2 584.2)"/>

</g>
<path d="M360,584 L388,600" stroke-dasharray="8,2.8,1.3,2.8" stroke-width="1.05"/>

<!-- ===== gasket 047 ===== -->
<path d="M372.5,517 L372.5,565 M372.5,517 L458.5,566.5 L458.5,598"/>
<g id="gasket">
<path d="M388.75,599 Q388.75,594.5 392.5,592.5 L438.5,567 Q443,565 443,569.5 L443,631.5 Q443,635.5 439.5,637.5 L393,663.5 Q388.75,665.5 388.75,661 Z" fill="#fff" stroke-width="1.6"/>
<path d="M394.7,607.5 Q400,600 408,598 Q418,595 424,590 Q430,586 437.5,583.7 L437.5,626.5 Q434,628 433.5,632 L399.2,655 Q397,651 394,650.5 L394.7,607.5 Z" stroke-width="1.4"/>
<ellipse cx="394" cy="598" rx="1.9" ry="2.4"/>
<ellipse cx="437.5" cy="573.2" rx="1.9" ry="2.4"/>
<ellipse cx="436.5" cy="633.2" rx="1.9" ry="2.4"/>
<ellipse cx="394" cy="657.2" rx="1.9" ry="2.4"/>
<path d="M401.5,598 Q403,590 406.5,590 Q409,590.5 410,594 M422,585.5 Q424,578 427.5,578.5 Q430,579 431,582.5"/>
<ellipse cx="405.5" cy="593" rx="1.3" ry="1.6"/>
<ellipse cx="426.5" cy="581" rx="1.3" ry="1.6"/>
</g>
<path d="M370,590.5 L388,599.5 M401.5,607.7 L452.5,636.2" stroke-dasharray="8,2.8,1.3,2.8" stroke-width="1.05"/>
<path d="M417.2,520 L417.2,586.7"/>
<!-- small screw -->
<ellipse cx="457.7" cy="601" rx="2.6" ry="3.4" transform="rotate(25 457.7 601)" fill="#fff" stroke-width="1.4"/>
<circle cx="458.3" cy="601" r="1" fill="#222"/>
<path d="M460,602 L481,613" stroke-dasharray="8,2.8,1.3,2.8" stroke-width="1.05"/>

<!-- ===== cover ===== -->
<g id="cover">
<path d="M453.5,633.5 L486,614.5 L505,603.5 L517.5,615 L517.5,620 L521.5,626 L521.5,675.5 L517,679 L515,682 L514.5,687.5 L481.5,706.5 L479.5,707 L478.5,704 L475,704.5 L469.5,708.5 L455,704.5 Q453.2,703.5 453.2,701 Z" fill="#fff"/>
<path d="M454,634 L470,641.5 M481.5,641 L499.5,630 M486,614.5 Q489,616.5 499.5,629.5 M492,612.5 L510,620.5"/>
<path d="M453.5,646.5 L469,652.3 M469.5,641.5 L469.5,652.3"/>
<path d="M470,641.5 Q474,637.3 478.5,638.5 Q481.5,640.5 481.3,645.5 Q480.5,651 476.5,652.8 L469,652.3" fill="#fff"/>
<ellipse cx="473" cy="644.5" rx="2.1" ry="2.8" transform="rotate(15 473 644.5)"/>
<ellipse cx="473" cy="644.5" rx="1" ry="1.4"/>
<path d="M499.5,630 Q502,624 507,623 Q512.5,623.5 512.5,629 Q512,636.5 507,639.5 Q503.5,640.5 501.5,638.5"/>
<ellipse cx="506.8" cy="631.5" rx="2.5" ry="3.2" transform="rotate(15 506.8 631.5)"/>
<ellipse cx="506.8" cy="631.5" rx="1.1" ry="1.5"/>
<path d="M511.5,618 L516.5,615.8 L516.5,622 Q514,622.5 512.5,620.5 Z" stroke-width="0.9"/>
<circle cx="514.5" cy="619.5" r="1"/>
<path d="M515.5,624 Q516,627.5 519,628"/>
<!-- lower boss -->
<path d="M454,648 L469.5,654.5 M452,663.5 L466.5,671" />
<path d="M454,648 Q449.5,650.5 449.5,656.5 Q450,661.5 452,663.5" />
<path d="M469,652.3 Q466.5,653.5 466.5,658 L466.5,671 L474.5,672 L474.5,706" />
<ellipse cx="474.4" cy="662.5" rx="6.2" ry="8" transform="rotate(12 474.4 662.5)" fill="#fff"/>
<ellipse cx="475" cy="662.5" rx="3.6" ry="4.4" transform="rotate(12 475 662.5)"/>
<ellipse cx="475" cy="662.5" rx="1.8" ry="2.3"/>
<path d="M466.5,671 L468.5,672.5" />
<path d="M468.8,700 L468.8,708 M468.8,700 L472,700.5 L472,704.5 M478.5,704 Q478,700 480,700 Q481.5,700.5 481.5,706" stroke-width="0.9"/>
<path d="M515,681 Q517.5,680 517.5,682.5 Q517,684.5 515,684" stroke-width="0.8"/>
</g>
</g>
<!-- labels -->
<g font-size="11.2" fill="#222">
<text x="363.5" y="120">009</text>
<text x="552.5" y="227.3">046</text>
<text x="365.8" y="322.8">008</text>
<text x="366" y="464.3">0</text><text x="378.45" y="464.3">0</text><path d="M375.88,464.20 L375.88,456.35 L373.78,458.30" stroke="#222" stroke-width="1.15" fill="none" stroke-linejoin="miter"/>
<text x="408.5" y="517">047</text>
<text x="167.3" y="441.3">003</text>
<text x="167.3" y="487.6">002</text>
<text x="167.3" y="560">00</text><path d="M183.40,559.90 L183.40,552.05 L181.30,554.00" stroke="#222" stroke-width="1.15" fill="none" stroke-linejoin="miter"/>
<text x="167.3" y="701">0</text><text x="179.75" y="701">0</text><path d="M177.18,700.90 L177.18,693.05 L175.08,695.00" stroke="#222" stroke-width="1.15" fill="none" stroke-linejoin="miter"/>
</g>
<text x="168" y="770" font-size="12" font-weight="bold" fill="#111">38</text>
<text x="0" y="0" font-size="6.8" fill="#222" transform="translate(627.2,750) rotate(-90)">5681 744</text>
</svg>
</body></html>
